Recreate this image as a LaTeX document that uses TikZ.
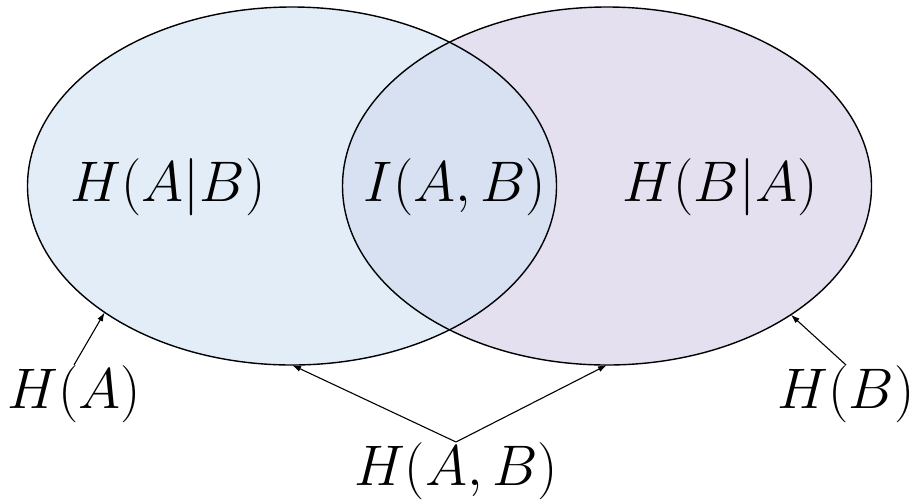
\documentclass[tikz,border=0pt]{standalone}
\usetikzlibrary{shapes.geometric,arrows.meta}
\definecolor{setAfill}{RGB}{227,237,248}
\definecolor{setBfill}{RGB}{228,224,240}
\definecolor{meetfill}{RGB}{215,225,242}
\begin{document}
\begin{tikzpicture}
 [x=0.5pt, y=-0.5pt,
  set node/.style={ellipse, minimum width=264.5pt, minimum height=179pt, inner sep=0pt, outer sep=0pt},
  label node/.style={inner sep=0pt, font=\Huge, scale=1.15, transform shape},
  pointer/.style={-{Latex[length=4.5pt,width=3pt]}, line width=0.55pt}]
\useasboundingbox (0,0) rectangle (913,499);

\node[set node, fill=setAfill] (A) at (292,186) {};
\node[set node, fill=setBfill] (B) at (607,186) {};
\begin{scope}
  \clip (A.center) ellipse [x radius=132.25pt, y radius=89.5pt];
  \fill[meetfill] (B.center) ellipse [x radius=132.25pt, y radius=89.5pt];
\end{scope}
\draw[line width=0.7pt] (A.center) ellipse [x radius=132.25pt, y radius=89.5pt];
\draw[line width=0.7pt] (B.center) ellipse [x radius=132.25pt, y radius=89.5pt];

\node[label node] (HAgB) at (168,187) {$H(A|B)$};
\node[label node] (IAB) at (455,187) {$I(A,B)$};
\node[label node] (HBgA) at (720,187) {$H(B|A)$};
\node[label node] (HA) at (74,394) {$H(A)$};
\node[label node] (HB) at (846,394) {$H(B)$};
\node[label node] (HAB) at (456,471) {$H(A,B)$};

\draw[pointer] (HA.north) -- (A.214.7);
\draw[pointer] (HB.north) -- (B.325.5);
\draw[pointer] (HAB.north) -- (A.south);
\draw[pointer] (HAB.north) -- (B.south);
\end{tikzpicture}
\end{document}
